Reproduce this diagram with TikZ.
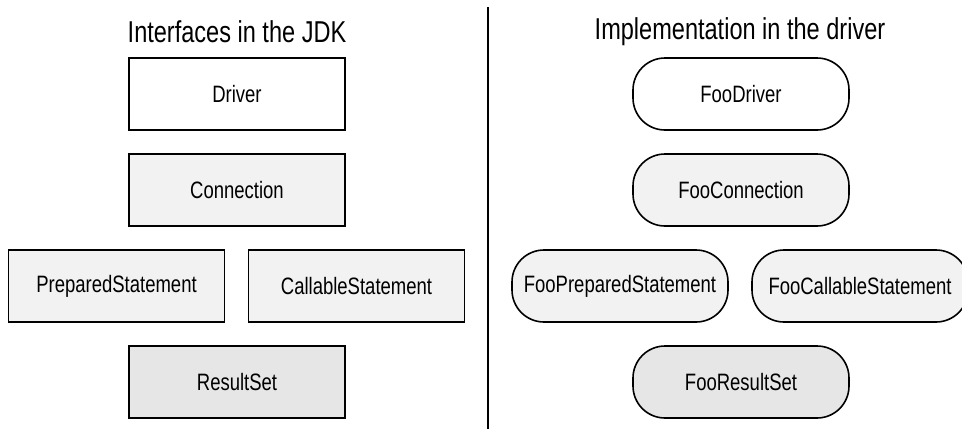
\documentclass[tikz,border=0pt]{standalone}
\usepackage{fontspec}
\setmainfont[FakeStretch=0.78]{Liberation Sans}
\usepackage{tikz}
\usepackage{xcolor}
\usetikzlibrary{positioning}
\definecolor{ifaceGray}{HTML}{F2F2F2}
\definecolor{setGray}{HTML}{E6E6E6}

\tikzset{
  jdkbox/.style={draw,line width=1.6bp,minimum width=216bp,minimum height=72bp,
    inner sep=0pt,font=\fontsize{23.8}{28}\selectfont},
  implbox/.style={jdkbox,rounded corners=32bp},
  coltitle/.style={font=\fontsize{30.3}{35}\selectfont,inner sep=0pt}
}

\begin{document}
\begin{tikzpicture}[x=1bp,y=-1bp]
  \useasboundingbox (0,0) rectangle (962,429);
  \clip (0,0) rectangle (962,429);
  % left column: interfaces
  \node[coltitle] (jdkTitle) at (237,32) {Interfaces in the JDK};
  \node[jdkbox] (driver) at (237,94) {Driver};
  \node[jdkbox,fill=ifaceGray] (connection) at (237,190) {Connection};
  \node[jdkbox,fill=ifaceGray] (prepared) at (116.5,286) {PreparedStatement};
  \node[jdkbox,fill=ifaceGray] (callable) at (356.5,286) {CallableStatement};
  \node[jdkbox,fill=setGray] (resultSet) at (237,382) {ResultSet};
  % divider
  \coordinate (divTop) at (488,7);
  \coordinate (divBot) at (488,429);
  \draw[line width=2bp] (divTop) -- (divBot);
  % right column: implementation
  \node[coltitle] (implTitle) at (740,32) {Implementation in the driver};
  \node[implbox] (fooDriver) at (741,94) {FooDriver};
  \node[implbox,fill=ifaceGray] (fooConnection) at (741,190) {FooConnection};
  \node[implbox,fill=ifaceGray] (fooPrepared) at (620,286) {FooPreparedStatement};
  \node[implbox,fill=ifaceGray] (fooCallable) at (860,286) {FooCallableStatement};
  \node[implbox,fill=setGray] (fooResultSet) at (741,382) {FooResultSet};
\end{tikzpicture}
\end{document}
